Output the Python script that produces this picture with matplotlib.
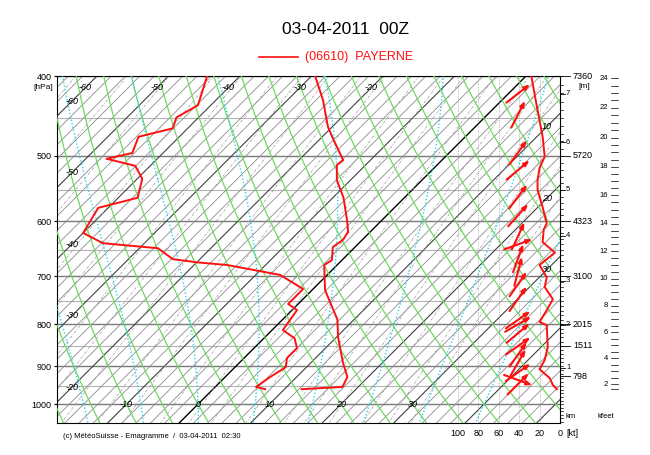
import numpy as np
import matplotlib.pyplot as plt
import matplotlib.transforms as mtransforms
from matplotlib.patches import FancyArrowPatch
from matplotlib.lines import Line2D

plt.rcParams['font.family'] = ['Liberation Sans', 'DejaVu Sans']

# Payerne sounding 03-04-2011 00Z
temp_p = [400, 428, 461, 478, 506, 513, 535, 562, 598, 618, 632, 645, 669, 678,
          727, 790, 829, 891, 927, 953, 959]
temp_t = [-29.5, -25.0, -20.6, -18.0, -13.8, -14.0, -11.9, -8.5, -4.9, -3.1, -2.7,
          -3.1, -1.4, -1.8, 1.8, 7.7, 10.2, 14.5, 17.1, 17.8, 12.4]
dewp_p = [400, 434, 449, 463, 474, 496, 504, 514, 533, 562, 578, 620, 638, 647,
          667, 673, 678, 697, 725, 756, 769, 813, 832, 855, 879, 902, 927, 940, 953, 959]
dewp_td = [-44.6, -41.8, -43.1, -42.1, -45.7, -44.3, -47.1, -42.1, -39.3, -37.3,
           -41.4, -40.0, -35.8, -27.4, -23.8, -20.0, -15.4, -6.6, -1.4, -1.4, 0.7,
           1.5, 4.3, 6.0, 6.0, 7.1, 6.3, 6.0, 5.7, 7.3]
spd_p = [401, 440, 474, 501, 517, 535, 550, 577, 604, 614, 636, 655, 678, 702, 721,
         746, 769, 795, 802, 853, 884, 907, 930, 948, 959]
spd_kt = [28, 22, 17, 15, 20, 22, 22, 17, 13, 16, 17, 5, 20, 13, 15, 7, 13, 20, 13,
          12, 15, 20, 10, 7, 3]
wind_p = [420, 445, 495, 520, 560, 590, 625, 640, 665, 690, 715, 745, 790, 800,
          820, 850, 870, 890, 915, 935, 945]
wind_dir = [232, 207, 216, 230, 217, 222, 205, 250, 200, 195, 215, 215, 235, 240,
            230, 235, 215, 210, 235, 290, 225]

# standard levels with geopotential height [m], and station
std_p = [400, 500, 600, 700, 800, 850, 925]
std_z = [7360, 5720, 4323, 3100, 2015, 1511, 798]
stn_p, stn_z = 959, 491

p_top, p_bot = 400, 1054
x_left, x_right = -19.72, 50.63
skew = 50.07  # degC per ln(p) unit -> 45 deg isotherms


def skx(t, p):
    return np.asarray(t) + skew * np.log(1000.0 / np.asarray(p))


fig = plt.figure(figsize=(6.5, 4.55), dpi=100)
ax = fig.add_axes([57 / 650, 32 / 455, 503 / 650, 347 / 455])
ax.set_yscale('log')
ax.set_ylim(p_bot, p_top)
ax.set_xlim(x_left, x_right)

pp = np.geomspace(p_top, p_bot, 200)

# horizontal isobars
for p in range(400, 1001, 50):
    if p % 100 == 0:
        ax.axhline(p, color='#7a7a7a', lw=1.0, zorder=1)
    else:
        ax.axhline(p, color='#b4b4b4', lw=0.8, zorder=1)

# isotherms
for t in range(-110, 52, 2):
    if t == 0:
        c, lw = 'black', 1.0
    elif t % 10 == 0:
        c, lw = '#404040', 0.8
    else:
        c, lw = '#8c8c8c', 0.6
    ax.plot(skx(t, pp[[0, -1]]), pp[[0, -1]], color=c, lw=lw, zorder=2)

# mixing ratio lines
for w in [0.02, 0.05, 0.1, 0.2, 0.3, 0.5, 0.7, 1, 1.5, 2, 3, 4, 5, 7, 10, 12, 15, 20, 25, 30]:
    e = w * pp / (622.0 + w)
    lg = np.log(e / 6.112)
    td = 243.5 * lg / (17.67 - lg)
    ax.plot(skx(td, pp), pp, color='#9a9a9a', lw=0.5, ls=(0, (4, 2, 1, 2)), zorder=2)

# dry adiabats
for th in range(-60, 121, 5):
    t = (th + 273.15) * (pp / 1000.0) ** 0.2857 - 273.15
    ax.plot(skx(t, pp), pp, color='#70d860', lw=0.9, zorder=3)


# saturated adiabats
def moist(tw, p_end, n):
    Rd, Cp, Lv, eps = 287.04, 1005.7, 2.501e6, 0.622
    ps = np.linspace(1000, p_end, n)
    t = np.asarray(tw, float) + 273.15
    out = [t.copy()]
    for p0, p1 in zip(ps[:-1], ps[1:]):
        es = 6.112 * np.exp(17.67 * (t - 273.15) / (t - 29.65))
        rs = eps * es / (p0 - es)
        dtdp = (Rd * t + Lv * rs) / (Cp + Lv * Lv * rs * eps / (Rd * t * t)) / p0
        t = t + dtdp * (p1 - p0)
        out.append(t.copy())
    return ps, np.array(out) - 273.15


tws = np.arange(-16, 41, 8)
pu, tu = moist(tws, 400, 400)
pd_, td_ = moist(tws, 1060, 40)
for i in range(len(tws)):
    ax.plot(skx(tu[:, i], pu), pu, color='#30d4e4', lw=1.0, ls=(0, (1, 1.5)), zorder=3)
    ax.plot(skx(td_[:, i], pd_), pd_, color='#30d4e4', lw=1.0, ls=(0, (1, 1.5)), zorder=3)

# isotherm labels
lab_kw = dict(fontsize=6.5, style='italic', ha='center', va='center', zorder=4)
for t in range(-60, -19, 10):
    ax.text(skx(t, 413.6), 413.6, str(t), **lab_kw)
    xl = (72 - 198) / 7.15
    ax.text(xl, 1000 * np.exp(-(xl - t) / skew), str(t), **lab_kw)
for t in range(-10, 31, 10):
    ax.text(t, 1000, str(t), **lab_kw)
for t in (10, 20, 30):
    xr = (547 - 198) / 7.15
    ax.text(xr, 1000 * np.exp(-(xr - t) / skew), str(t), **lab_kw)

# temperature / dew point profiles
ax.plot(skx(temp_t, temp_p), temp_p, color='#ff1010', lw=1.4, zorder=6)
ax.plot(skx(dewp_td, dewp_p), dewp_p, color='#ff1010', lw=1.4, zorder=6)

ax.set_yticks(range(400, 1001, 100))
ax.set_yticklabels([str(p) for p in range(400, 1001, 100)], fontsize=6.5)
ax.yaxis.set_minor_locator(plt.NullLocator())
ax.tick_params(axis='y', length=2, pad=2)
ax.set_xticks([])
for s in ax.spines.values():
    s.set_linewidth(0.8)
ax.text(-0.008, 1 - 11 / 347, '[hPa]', transform=ax.transAxes, fontsize=6, ha='right', va='center')

# wind panel (knots, 0 at the right edge)
ax2 = ax.twiny()
ax2.set_xlim(493.1, 0)
ax2.set_ylim(p_bot, p_top)
ax2.set_xticks([])
for s in ax2.spines.values():
    s.set_visible(False)
for k in range(20, 101, 20):
    ax2.axvline(k, color='#9a9a9a', lw=0.6, ls=':', zorder=2)
bt = mtransforms.blended_transform_factory(ax2.transData, ax.transAxes)
for k in range(0, 101, 20):
    ax2.text(k, -10 / 347, str(k), transform=bt, fontsize=6.5, ha='center', va='center')
ax2.text(-6, -10 / 347, '[kt]', transform=bt, fontsize=6.5, ha='left', va='center')
ax2.plot(spd_kt, spd_p, color='#ff1010', lw=1.4, zorder=6)

fig.canvas.draw()
arrow_len = 30
for p, d in zip(wind_p, wind_dir):
    cx, cy = ax2.transData.transform((41, p))
    b = np.radians(d + 180)
    dx, dy = np.sin(b) * arrow_len / 2, np.cos(b) * arrow_len / 2
    fig.patches.append(FancyArrowPatch((cx - dx, cy - dy), (cx + dx, cy + dy),
                                       transform=mtransforms.IdentityTransform(),
                                       arrowstyle='-|>,head_length=1.2,head_width=0.45',
                                       mutation_scale=2.6, lw=1.5, shrinkA=0, shrinkB=0,
                                       color='#ff1010', zorder=7))

# height scales on the right
rt = ax.get_yaxis_transform()
lnp = np.log(np.r_[std_p, stn_p])
zz = np.r_[std_z, stn_z]


def z2p(z):
    return np.exp(np.interp(z, zz[::-1], lnp[::-1]))


for p in range(400, 1051, 10):
    ax.plot([1, 1 + 3 / 503], [p, p], transform=rt, color='black', lw=0.5, clip_on=False)
for p, z in zip(std_p, std_z):
    ax.plot([1, 1 + 10 / 503], [p, p], transform=rt, color='black', lw=0.6, clip_on=False)
    ax.text(1 + 13 / 503, p, str(z), transform=rt, fontsize=6.5, va='center', ha='left')
ax.text(1 + 18 / 503, 400 * np.exp(10 / 358), '[m]', transform=rt, fontsize=6, va='center', ha='left')
for km in range(1, 8):
    p = z2p(km * 1000)
    ax.plot([1, 1 + 5 / 503], [p, p], transform=rt, color='black', lw=0.6, clip_on=False)
    ax.text(1 + 6 / 503, p, str(km), transform=rt, fontsize=5.5, va='center', ha='left')
for hk in np.arange(1.5, 24.01, 0.5):
    p = z2p(hk * 304.8)
    if p > p_bot:
        continue
    ax.plot([1 + 51 / 503, 1 + 58 / 503], [p, p], transform=rt, color='black', lw=0.5, clip_on=False)
    if hk % 2 == 0:
        ax.text(1 + 48 / 503, p, str(int(hk)), transform=rt, fontsize=5.5, va='center', ha='right')
ax.text(1 + 6 / 503, 7 / 347, 'km', transform=ax.transAxes, fontsize=5.5, va='center')
ax.text(1 + 38 / 503, 7 / 347, 'kfeet', transform=ax.transAxes, fontsize=5.5, va='center')

# titles
fig.text(345 / 650, 1 - 30 / 455, '03-04-2011  00Z', fontsize=12.5, ha='center', va='center')
fig.lines.append(Line2D([259 / 650, 298 / 650], [1 - 57 / 455] * 2, color='#ff1010', lw=1.2,
                        transform=fig.transFigure))
fig.text(305 / 650, 1 - 57 / 455, '(06610)  PAYERNE', fontsize=9, color='#ff1010', va='center')
fig.text(63 / 650, 1 - 437 / 455, '(c) MétéoSuisse - Emagramme  /  03-04-2011  02:30',
         fontsize=5.5, va='center')

fig.savefig('out.png', dpi=100)
